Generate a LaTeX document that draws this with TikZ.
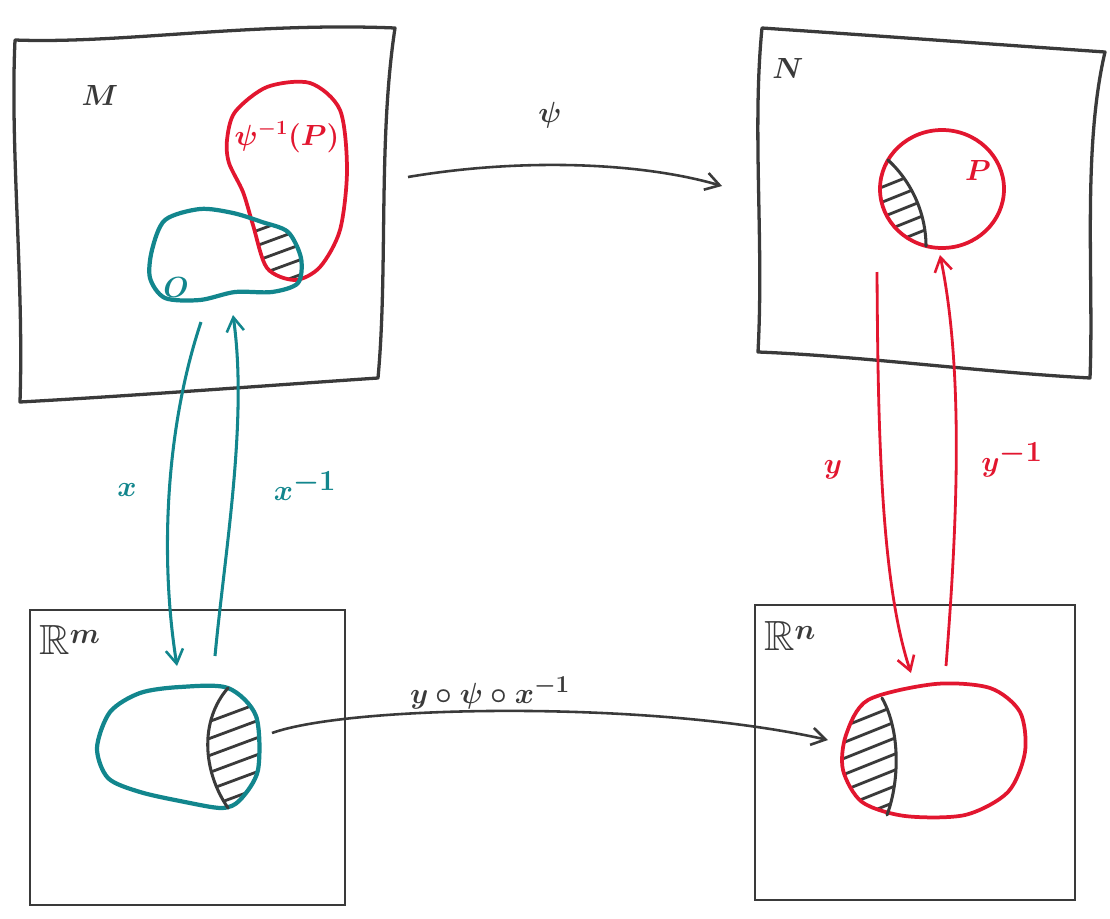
\documentclass[tikz,border=0pt]{standalone}
\usepackage{amssymb}
\usetikzlibrary{arrows.meta}
\definecolor{Ink}{HTML}{3A3A3A}
\definecolor{ChartTeal}{HTML}{12868D}
\definecolor{ChartRed}{HTML}{E2162F}
\tikzset{
  sheet panel/.style={draw=Ink, line width=2.8pt, line join=round},
  chart panel/.style={draw=Ink, line width=2.4pt},
  teal set/.style={draw=ChartTeal, line width=3.6pt},
  red set/.style={draw=ChartRed, line width=3.2pt},
  split line/.style={draw=Ink, line width=2.6pt, line cap=round},
  hatch line/.style={draw=Ink, line width=2.4pt, line cap=round},
  map flow/.style={-{Straight Barb[length=4.2mm,width=5.2mm,line width=2.2pt]}, draw=Ink, line width=2.2pt},
  teal flow/.style={map flow, draw=ChartTeal, line width=2.6pt},
  red flow/.style={map flow, draw=ChartRed, line width=2.4pt},
  hand label/.style={font=\fontsize{36}{38}\selectfont\boldmath, inner sep=0pt, text=Ink},
}
% Outlines of the open sets, reused for drawing and for clipping.
\def\preimagepath{plot[smooth cycle] coordinates {(227,140) (235,112) (267,87) (310,83) (340,110)
  (347,170) (340,230) (320,267) (295,280) (267,268) (253,225) (243,192) (229,163)}}
\def\domainpath{plot[smooth cycle] coordinates {(152,250) (165,220) (200,209) (233,213) (262,222)
  (288,232) (301,258) (298,283) (272,292) (235,292) (200,300) (165,298) (150,278)}}
\def\chartleftpath{plot[smooth cycle] coordinates {(97,748) (110,712) (140,693) (180,687) (228,688)
  (256,716) (258,770) (240,800) (222,808) (185,802) (140,792) (108,778)}}
\def\chartrightpath{plot[smooth cycle] coordinates {(846,735) (868,700) (935,684) (990,688) (1020,712)
  (1025,752) (1008,792) (965,815) (905,816) (862,802) (843,770)}}

\begin{document}
\begin{tikzpicture}[x=0.03cm, y=-0.03cm]
  \useasboundingbox (0,0) rectangle (1110,919);

  % Manifolds drawn as hand-warped sheets, charts as plain boxes.
  \draw[sheet panel] (15,40) .. controls (120,44) and (250,22) .. (395,28)
    .. controls (378,140) and (388,270) .. (378,378)
    .. controls (260,386) and (130,396) .. (20,402)
    .. controls (24,280) and (10,150) .. cycle;
  \draw[sheet panel] (762,28) .. controls (880,36) and (990,44) .. (1105,52)
    .. controls (1082,150) and (1094,280) .. (1090,378)
    .. controls (980,372) and (860,356) .. (758,352)
    .. controls (764,240) and (752,130) .. cycle;
  \draw[chart panel] (30,610) rectangle (345,905);
  \draw[chart panel] (755,605) rectangle (1075,900);

  % Hatched overlaps.
  \begin{scope}
    \clip \preimagepath;
    \clip \domainpath;
    \foreach \k in {235,250,...,310}
      \draw[hatch line] (245,\k) -- ++(60,-22);
  \end{scope}
  \begin{scope}
    \clip (942,189) ellipse (62 and 59);
    \clip (888,160) .. controls (912,182) and (926,214) .. (926,246) -- (860,250) -- (860,150) -- cycle;
    \foreach \k in {188,203,...,250}
      \draw[hatch line] (880,\k) -- ++(45,-18);
  \end{scope}
  \begin{scope}
    \clip \chartleftpath;
    \clip (228,688) .. controls (200,720) and (202,770) .. (228,808) -- (270,810) -- (270,680) -- cycle;
    \foreach \k in {725,742,...,825}
      \draw[hatch line] (200,\k) -- ++(70,-26);
  \end{scope}
  \begin{scope}
    \clip \chartrightpath;
    \clip (882,698) .. controls (900,730) and (900,780) .. (887,815) -- (830,820) -- (830,690) -- cycle;
    \foreach \k in {728,744,...,825}
      \draw[hatch line] (840,\k) -- ++(55,-22);
  \end{scope}

  % Open sets.
  \draw[red set] \preimagepath;
  \draw[teal set] \domainpath;
  \draw[red set] (942,189) ellipse (62 and 59);
  \draw[teal set] \chartleftpath;
  \draw[red set] \chartrightpath;
  \draw[split line] (888,160) .. controls (912,182) and (926,214) .. (926,246);
  \draw[split line] (228,688) .. controls (200,720) and (202,770) .. (228,808);
  \draw[split line] (882,698) .. controls (900,730) and (900,780) .. (887,815);

  % Labels.
  \node[hand label] (labM) at (100,95) {$M$};
  \node[hand label] (labN) at (788,68) {$N$};
  \node[hand label, text=ChartRed, font=\fontsize{27}{29}\selectfont\boldmath] (labPre) at (287,137) {$\psi^{-1}(P)$};
  \node[hand label, text=ChartTeal] (labO) at (176,287) {$O$};
  \node[hand label, text=ChartRed] (labP) at (978,170) {$P$};
  \node[hand label] (labRm) at (70,640) {$\mathbb{R}^m$};
  \node[hand label] (labRn) at (790,636) {$\mathbb{R}^n$};
  \node[hand label, font=\fontsize{50}{52}\selectfont\boldmath] (labPsi) at (550,115) {$\psi$};
  \node[hand label, text=ChartTeal, font=\fontsize{42}{44}\selectfont\boldmath] (labX) at (127,490) {$x$};
  \node[hand label, text=ChartTeal, font=\fontsize{42}{44}\selectfont\boldmath] (labXinv) at (305,486) {$x^{-1}$};
  \node[hand label, text=ChartRed, font=\fontsize{42}{44}\selectfont\boldmath] (labY) at (833,470) {$y$};
  \node[hand label, text=ChartRed, font=\fontsize{42}{44}\selectfont\boldmath] (labYinv) at (1012,460) {$y^{-1}$};
  \node[hand label, font=\fontsize{31}{33}\selectfont\boldmath] (labComp) at (490,693) {$y\circ\psi\circ x^{-1}$};

  % Arrow end points.
  \coordinate (psiTail) at (408,177);
  \coordinate (psiHead) at (722,186);
  \coordinate (xTail) at (201,322);
  \coordinate (xHead) at (177,666);
  \coordinate (xinvTail) at (215,656);
  \coordinate (xinvHead) at (233,315);
  \coordinate (yTail) at (877,272);
  \coordinate (yHead) at (911,673);
  \coordinate (yinvTail) at (946,666);
  \coordinate (yinvHead) at (940,255);
  \coordinate (compTail) at (272,733);
  \coordinate (compHead) at (828,740);

  % Maps between the spaces.
  \draw[map flow] (psiTail) .. controls (520,158) and (640,162) .. (psiHead);
  \draw[teal flow] (xTail) .. controls (165,430) and (160,560) .. (xHead);
  \draw[teal flow] (xinvTail) .. controls (225,550) and (248,420) .. (xinvHead);
  \draw[red flow] (yTail) .. controls (878,420) and (880,580) .. (yHead);
  \draw[red flow] (yinvTail) .. controls (955,550) and (966,380) .. (yinvHead);
  \draw[map flow] (compTail) .. controls (350,705) and (650,700) .. (compHead);
\end{tikzpicture}
\end{document}
